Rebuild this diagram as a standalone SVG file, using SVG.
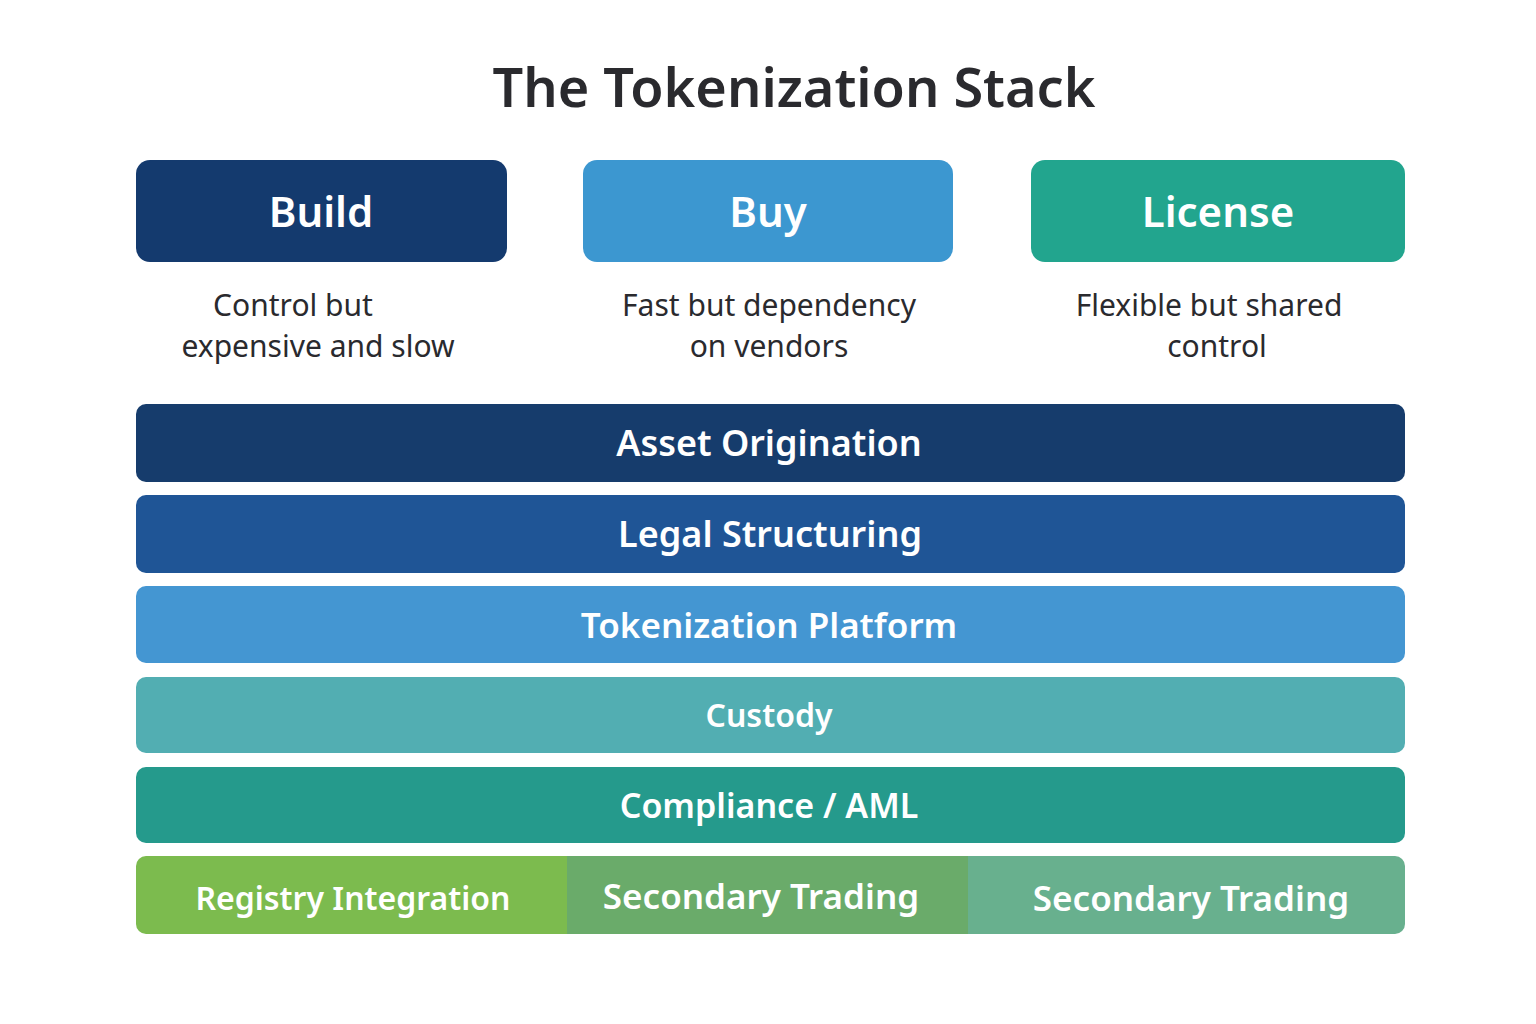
<svg xmlns="http://www.w3.org/2000/svg" width="1536" height="1024" viewBox="0 0 1536 1024">
<defs>
<style>
.t{font-family:"Noto Sans","Open Sans","DejaVu Sans",sans-serif;text-anchor:middle;fill:#ffffff;font-weight:600}
.d{font-family:"Noto Sans","Open Sans","DejaVu Sans",sans-serif;text-anchor:middle;fill:#2a2a2e;font-size:30px;font-weight:400}
</style>
<clipPath id="rowclip"><rect x="136" y="856" width="1269" height="78" rx="10"/></clipPath>
</defs>
<rect width="1536" height="1024" fill="#ffffff"/>
<text class="t" x="794" y="107" style="fill:#2a2a2e;font-size:54px">The Tokenization Stack</text>

<g id="build">
<rect x="136" y="160" width="371" height="102" rx="14" fill="#143a6e"/>
<text class="t" x="321" y="227" font-size="42">Build</text>
<text class="d" x="293" y="316">Control but</text>
<text class="d" x="318" y="357">expensive and slow</text>
</g>
<g id="buy">
<rect x="583" y="160" width="370" height="102" rx="14" fill="#3c97d0"/>
<text class="t" x="768" y="227" font-size="42">Buy</text>
<text class="d" x="769" y="316">Fast but dependency</text>
<text class="d" x="769" y="357">on vendors</text>
</g>
<g id="license">
<rect x="1031" y="160" width="374" height="102" rx="14" fill="#22a58e"/>
<text class="t" x="1218" y="227" font-size="42">License</text>
<text class="d" x="1209" y="316">Flexible but shared</text>
<text class="d" x="1217" y="357">control</text>
</g>

<g id="asset-origination">
<rect x="136" y="404" width="1269" height="78" rx="10" fill="#163c6c"/>
<text class="t" x="769" y="456" font-size="36">Asset Origination</text>
</g>
<g id="legal-structuring">
<rect x="136" y="495" width="1269" height="78" rx="10" fill="#1f5596"/>
<text class="t" x="770" y="547" font-size="36">Legal Structuring</text>
</g>
<g id="tokenization-platform">
<rect x="136" y="586" width="1269" height="77" rx="10" fill="#4496d2"/>
<text class="t" x="769" y="638" font-size="35">Tokenization Platform</text>
</g>
<g id="custody">
<rect x="136" y="677" width="1269" height="76" rx="10" fill="#52aeb2"/>
<text class="t" x="769" y="727" font-size="32" font-weight="500">Custody</text>
</g>
<g id="compliance">
<rect x="136" y="767" width="1269" height="76" rx="10" fill="#259a8c"/>
<text class="t" x="769" y="818" font-size="34" font-weight="500">Compliance / AML</text>
</g>
<g id="bottom-row" clip-path="url(#rowclip)">
<g id="registry-integration">
<rect x="136" y="856" width="431" height="78" fill="#7cbb4e"/>
<text class="t" x="353" y="910" font-size="32" font-weight="500">Registry Integration</text>
</g>
<g id="secondary-trading-1">
<rect x="567" y="856" width="401" height="78" fill="#6aab6a"/>
<text class="t" x="761" y="909" font-size="35">Secondary Trading</text>
</g>
<g id="secondary-trading-2">
<rect x="968" y="856" width="437" height="78" fill="#68b08e"/>
<text class="t" x="1191" y="911" font-size="35">Secondary Trading</text>
</g>
</g>
<g id="connectors"/>
</svg>
